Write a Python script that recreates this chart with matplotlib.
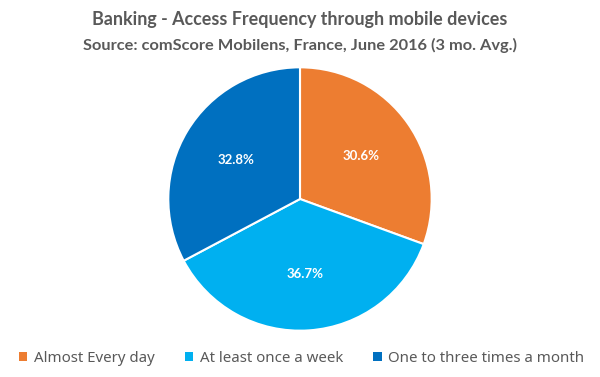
import matplotlib.pyplot as plt
from matplotlib.patches import Patch

categories = ['Almost Every day', 'At least once a week', 'One to three times a month']
shares = [30.6, 36.7, 32.8]
colors = ['#ED7D31', '#00B0F0', '#0070C0']

fig = plt.figure(figsize=(6, 3.77), dpi=100)
# pie centre at (300, 199) px, radius ~133 px
ax = fig.add_axes([167 / 600, 45 / 377, 266 / 600, 266 / 377])

wedges, texts, autotexts = ax.pie(
    shares, colors=colors, startangle=90, counterclock=False,
    autopct='%1.1f%%', pctdistance=0.57, radius=1,
    wedgeprops=dict(edgecolor='white', linewidth=1.5),
    textprops=dict(color='white', fontsize=9.5, fontweight='bold', family='Lato'))
ax.set_xlim(-1.01, 1.01)
ax.set_ylim(-1.01, 1.01)
ax.set_aspect('equal')

fig.text(0.5, 1 - 20 / 377, 'Banking - Access Frequency through mobile devices',
         ha='center', va='center', fontsize=12.9, fontweight='bold', color='#595959', family='Lato')
fig.text(0.5, 1 - 45 / 377, 'Source: comScore Mobilens, France, June 2016 (3 mo. Avg.)',
         ha='center', va='center', fontsize=11.8, fontweight='bold', color='#595959', family='Lato')

handles = [Patch(facecolor=c, edgecolor='none') for c in colors]
fig.legend(handles, categories, loc='center', bbox_to_anchor=(0.503, 1 - 358 / 377),
           ncol=3, frameon=False, handlelength=0.55, handleheight=0.55, handletextpad=0.45,
           columnspacing=2.0, prop=dict(family='Noto Sans', size=10.8),
           labelcolor='#595959')

fig.savefig('out.png', dpi=100, facecolor='white')
